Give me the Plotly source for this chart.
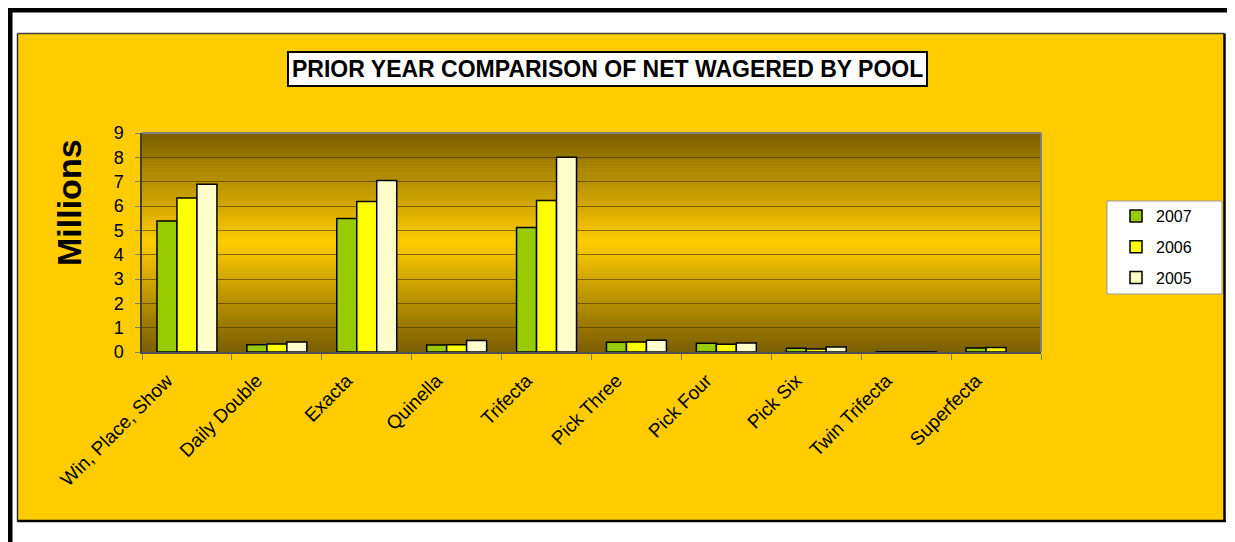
import plotly.graph_objects as go

# ---------------- data ----------------
categories = ["Win, Place, Show", "Daily Double", "Exacta", "Quinella", "Trifecta",
              "Pick Three", "Pick Four", "Pick Six", "Twin Trifecta", "Superfecta"]
v2007 = [5.38, 0.30, 5.49, 0.29, 5.12, 0.40, 0.36, 0.15, 0.01, 0.16]
v2006 = [6.33, 0.33, 6.18, 0.30, 6.23, 0.41, 0.32, 0.12, 0.01, 0.18]
v2005 = [6.89, 0.41, 7.05, 0.47, 8.00, 0.48, 0.37, 0.21, 0.01, None]
series_names = ["2007", "2006", "2005"]
series_values = [v2007, v2006, v2005]
series_colors = ["#99CC00", "#FFFF00", "#FFFFCC"]
y_ticks = list(range(0, 10))
title_text = "PRIOR YEAR COMPARISON OF NET WAGERED BY POOL"
y_title = "Millions"

# ---------------- geometry helpers ----------------
# page body has an 8px margin, so the figure is shifted; compensate
OFF = 8
W, H = 1235, 542
PL, PR, PT, PB = 142, 1041, 133, 352
def px(x):
    return (x - PL) / (PR - PL)
def py(y):
    return (PB - y) / (PB - PT)

FONT = "Arial, 'Liberation Sans', sans-serif"

fig = go.Figure()
for name, vals, col in zip(series_names, series_values, series_colors):
    fig.add_trace(go.Bar(
        name=name, x=categories, y=vals, legendgroup=name,
        marker=dict(color=col, line=dict(color="black", width=1.5)),
    ))

shapes = []
# outer frame lines
shapes.append(dict(type="rect", xref="paper", yref="paper", x0=px(7), x1=px(12.5), y0=py(7), y1=py(560),
                   fillcolor="black", line=dict(width=0), layer="below"))
shapes.append(dict(type="rect", xref="paper", yref="paper", x0=px(7), x1=px(1260), y0=py(7), y1=py(12.5),
                   fillcolor="black", line=dict(width=0), layer="below"))
# yellow chart area
RX = 1224.5
shapes.append(dict(type="rect", xref="paper", yref="paper", x0=px(17.5), x1=px(RX), y0=py(33.5), y1=py(521),
                   fillcolor="#FFCC00", line=dict(width=0), layer="below"))
shapes.append(dict(type="line", xref="paper", yref="paper", x0=px(17.5), x1=px(17.5), y0=py(33.5), y1=py(521.5),
                   line=dict(color="#303030", width=1.5), layer="below"))
shapes.append(dict(type="line", xref="paper", yref="paper", x0=px(17.5), x1=px(RX), y0=py(33.5), y1=py(33.5),
                   line=dict(color="#404040", width=1.5), layer="below"))
shapes.append(dict(type="line", xref="paper", yref="paper", x0=px(17.5), x1=px(RX + 1.5), y0=py(521), y1=py(521),
                   line=dict(color="black", width=2.5), layer="below"))
shapes.append(dict(type="line", xref="paper", yref="paper", x0=px(RX), x1=px(RX), y0=py(33.5), y1=py(522),
                   line=dict(color="black", width=2.5), layer="below"))

# gradient plot background (dark - bright - dark)
edge = (122, 94, 0)
mid = (255, 204, 0)
N = 110
for i in range(N):
    t = (i + 0.5) / N
    f = 1 - abs(t - 0.5) * 2  # 0 at edges, 1 at center
    c = tuple(int(round(e + (m - e) * f)) for e, m in zip(edge, mid))
    shapes.append(dict(type="rect", xref="paper", yref="paper", x0=0, x1=1,
                       y0=i / N, y1=(i + 1) / N + 0.002,
                       fillcolor="rgb(%d,%d,%d)" % c, line=dict(width=0), layer="below"))

# plot border top/right
shapes.append(dict(type="line", xref="paper", yref="paper", x0=0, x1=1, y0=1, y1=1,
                   line=dict(color="#808080", width=2)))
shapes.append(dict(type="line", xref="paper", yref="paper", x0=1, x1=1, y0=0, y1=1,
                   line=dict(color="#808080", width=2)))
# legend box
shapes.append(dict(type="rect", xref="paper", yref="paper", x0=px(1107), x1=px(1222), y0=py(201), y1=py(294),
                   fillcolor="white", line=dict(color="#999999", width=1), layer="below"))

annotations = [
    dict(text="<b>%s</b>" % title_text, xref="paper", yref="paper", x=px(607), y=py(69),
         xanchor="center", yanchor="middle", showarrow=False,
         font=dict(family=FONT, size=23, color="black"),
         bgcolor="white", bordercolor="black", borderwidth=2, borderpad=3),
    dict(text="<b>%s</b>" % y_title, xref="paper", yref="paper", x=px(69), y=py(203),
         xanchor="center", yanchor="middle", showarrow=False, textangle=-90,
         font=dict(family=FONT, size=34, color="black")),
]

fig.update_layout(
    width=W - OFF, height=H - OFF,
    margin=dict(l=PL - OFF, r=W - PR, t=PT - OFF, b=H - PB, pad=0, autoexpand=False),
    paper_bgcolor="white",
    plot_bgcolor="rgba(0,0,0,0)",
    barmode="group", bargap=0.333, bargroupgap=0,
    font=dict(family=FONT, color="black"),
    showlegend=True,
    legend=dict(x=px(1116), y=py(199), xanchor="left", yanchor="top",
                bgcolor="rgba(0,0,0,0)", borderwidth=0,
                font=dict(family=FONT, size=16, color="black"),
                tracegroupgap=7, traceorder="grouped"),
    shapes=shapes,
    annotations=annotations,
    xaxis=dict(type="category", tickangle=-45, tickson="boundaries", ticks="outside",
               ticklen=6, tickcolor="#808080", tickwidth=1,
               showline=True, linecolor="#505050", linewidth=2,
               showgrid=False, automargin=False,
               ticklabelshift=-20, ticklabelstandoff=8,
               tickfont=dict(family=FONT, size=19, color="black")),
    yaxis=dict(range=[0, 9], tickvals=y_ticks, ticktext=[str(v) for v in y_ticks],
               ticks="outside", ticklen=5, tickcolor="#808080", tickwidth=1,
               showline=True, linecolor="#404040", linewidth=1.5,
               showgrid=True, gridcolor="rgba(70,50,0,0.6)", gridwidth=1.2,
               zeroline=False, automargin=False, ticklabelstandoff=8,
               tickfont=dict(family=FONT, size=18, color="black")),
)

fig.write_html("out.html")
